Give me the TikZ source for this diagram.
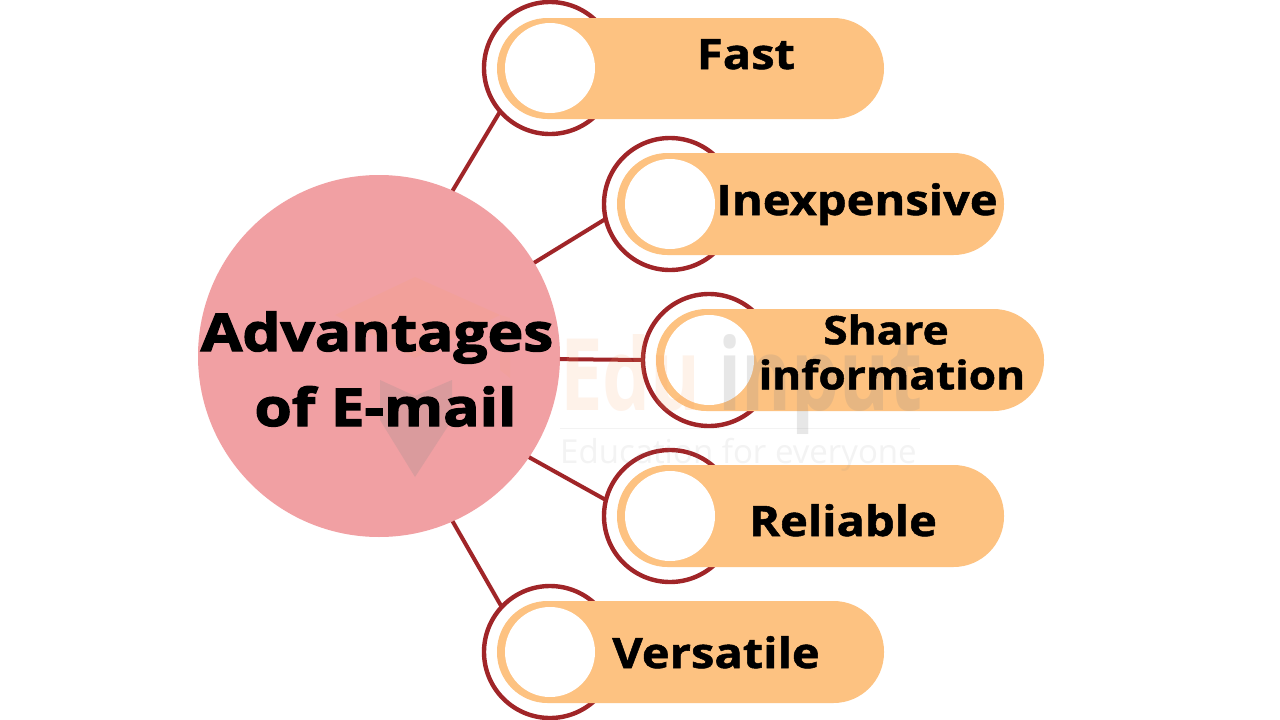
\documentclass[tikz,border=0pt]{standalone}
\usepackage{fontspec}
\setmainfont{Open Sans}
\newfontfamily\labfont{Open Sans Bold}[FakeStretch=1.12,FakeBold=1.2]
\newfontfamily\hubfont{Open Sans Bold}[FakeStretch=1.16,FakeBold=2.6]
\newfontfamily\markfont{Open Sans Bold}[FakeStretch=0.76]
\definecolor{hubpink}{HTML}{F1A0A3}
\definecolor{pillorange}{HTML}{FDC281}
\definecolor{ringred}{HTML}{A02528}
\definecolor{markorange}{HTML}{F9A36A}
\definecolor{markgrey}{HTML}{8A8A8A}
\tikzset{
 x=1pt,y=-1pt,
 hub/.style={circle,fill=hubpink,minimum size=362pt,inner sep=0pt,outer sep=0pt},
 ringnode/.style={circle,draw=ringred,line width=4.4pt,fill=white,minimum size=132pt,inner sep=0pt,outer sep=0pt},
 pill/.style={fill=pillorange,rounded corners=50.5pt},
 hole/.style={circle,fill=white,minimum size=90pt,inner sep=0pt,outer sep=0pt},
 conn/.style={draw=ringred,line width=4pt},
 lab/.style={font=\labfont\fontsize{42}{46}\selectfont,text=black,inner sep=0pt,anchor=base},
 lab2/.style={font=\labfont\fontsize{39.5}{45}\selectfont,text=black,inner sep=0pt,align=center},
 hublab/.style={font=\hubfont\fontsize{52}{75}\selectfont,text=black,inner sep=0pt,align=center},
 wm/.style={inner sep=0pt,anchor=base west},
}
\begin{document}
\begin{tikzpicture}
\useasboundingbox (0,0) rectangle (1280,720);
\fill[white] (0,0) rectangle (1280,720);
\node[hub] (h) at (379,356) {};
\node[ringnode] (r1) at (550,68) {};
\node[ringnode] (r2) at (670,204) {};
\node[ringnode] (r3) at (709,360) {};
\node[ringnode] (r4) at (670,516) {};
\node[ringnode] (r5) at (550,652) {};
\draw[conn] (h.66) -- (r1.221);
\draw[conn] (h.31.7) -- (r2.193);
\draw[conn] (h.-1.2) -- (r3.180);
\draw[conn] (h.-34) -- (r4.166);
\draw[conn] (h.-66.5) -- (r5.137);
\fill[pill] (497,18) rectangle (884,119);
\fill[pill] (617,153) rectangle (1004,255);
\fill[pill] (656,309) rectangle (1044,411);
\fill[pill] (617,465) rectangle (1004,567);
\fill[pill] (497,601) rectangle (884,703);
\node[hole] (c1) at (550,68) {};
\node[hole] (c2) at (670,204) {};
\node[hole] (c3) at (709,360) {};
\node[hole] (c4) at (670,516) {};
\node[hole] (c5) at (550,652) {};
% faint watermark
\fill[markorange,opacity=.14] (415,277) -- (500,315) -- (415,358) -- (335,315) -- cycle;
\fill[markorange,opacity=.10] (500,315) -- (510,318) -- (510,378) -- (500,370) -- cycle;
\fill[markgrey,opacity=.22] (380,380) -- (415,396) -- (452,380) -- (452,420) -- (415,477) -- (380,420) -- cycle;
\node[wm,text=markorange,opacity=.14,font=\markfont\fontsize{100}{100}\selectfont] (w1) at (560,410) {Edu};
\node[wm,text=markgrey,opacity=.2,font=\markfont\fontsize{100}{100}\selectfont] (w2) at (718,410) {input};
\draw[markgrey,opacity=.1,line width=1pt] (560,428) -- (920,428);
\node[wm,text=markgrey,opacity=.1,font=\fontsize{33}{33}\selectfont] (w3) at (560,463) {Education for everyone};
% labels
\node[lab] (t1) at (746,69) {Fast};
\node[lab] (t2) at (857,215) {Inexpensive};
\node[lab2] (t3) at (892,352) {Share\hspace*{12pt}\\information};
\node[lab] (t4) at (843,536) {Reliable};
\node[lab] (t5) at (716,668) {Versatile};
\node[hublab] (t0) at (377,369) {Advantages\\\hspace*{17pt}of E-mail};
\end{tikzpicture}
\end{document}
